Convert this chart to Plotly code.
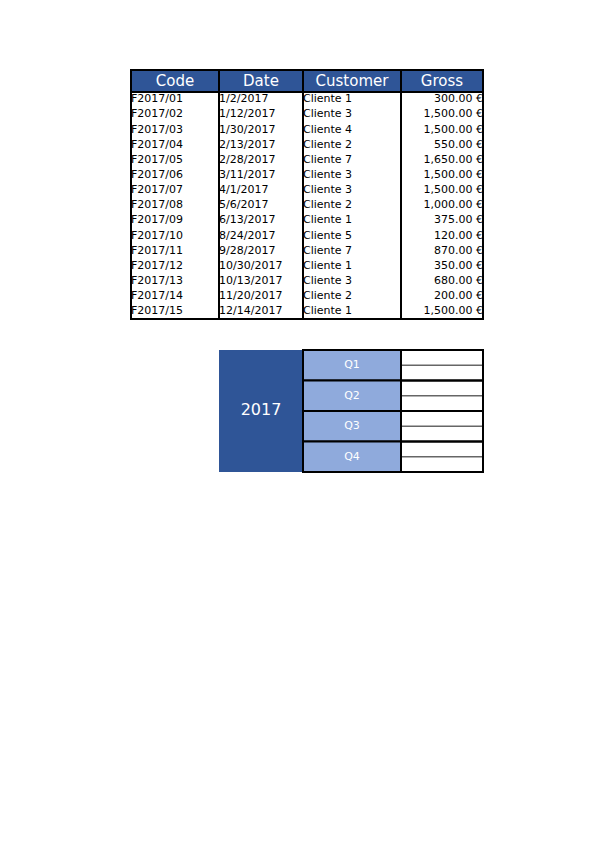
import plotly.graph_objects as go

headers = ['Code', 'Date', 'Customer', 'Gross']
codes = ['F2017/%02d' % i for i in range(1, 16)]
dates = ['1/2/2017', '1/12/2017', '1/30/2017', '2/13/2017', '2/28/2017', '3/11/2017', '4/1/2017',
         '5/6/2017', '6/13/2017', '8/24/2017', '9/28/2017', '10/30/2017', '10/13/2017', '11/20/2017', '12/14/2017']
customers = ['Cliente 1', 'Cliente 3', 'Cliente 4', 'Cliente 2', 'Cliente 7', 'Cliente 3', 'Cliente 3',
             'Cliente 2', 'Cliente 1', 'Cliente 5', 'Cliente 7', 'Cliente 1', 'Cliente 3', 'Cliente 2', 'Cliente 1']
gross = [300, 1500, 1500, 550, 1650, 1500, 1500, 1000, 375, 120, 870, 350, 680, 200, 1500]
year = '2017'
quarters = ['Q1', 'Q2', 'Q3', 'Q4']

dark = '#2f5597'
light = '#8faadc'
cols = [131, 219, 303, 401, 483]
top, head_b = 70, 92
rh = (319 - head_b) / len(codes)

fig = go.Figure()
shapes = []

# header
for i, h in enumerate(headers):
    shapes.append(dict(type='rect', x0=cols[i], x1=cols[i + 1], y0=top, y1=head_b, layer='below',
                       fillcolor=dark, line=dict(color='black', width=2)))
fig.add_trace(go.Scatter(x=[(cols[i] + cols[i + 1]) / 2 for i in range(4)], y=[(top + head_b) / 2 + 1] * 4,
                         mode='text', text=headers, textfont=dict(color='white', size=15, family='DejaVu Sans')))

# body columns
for i in range(4):
    shapes.append(dict(type='rect', x0=cols[i], x1=cols[i + 1], y0=head_b, y1=319, layer='below',
                       line=dict(color='black', width=2)))
ys = [head_b + rh * (k + 0.5) for k in range(len(codes))]
body_font = dict(color='black', size=11, family='DejaVu Sans')
for i, vals in enumerate([codes, dates, customers]):
    fig.add_trace(go.Scatter(x=[cols[i]] * len(vals), y=ys, mode='text', text=vals,
                             textposition='middle right', textfont=body_font))
fig.add_trace(go.Scatter(x=[cols[4]] * len(gross), y=ys, mode='text',
                         text=['{:,.2f} €'.format(g) for g in gross],
                         textposition='middle left', textfont=body_font))

# quarter summary
t2, b2 = 350, 472
qh = (b2 - t2) / len(quarters)
shapes.append(dict(type='rect', x0=219, x1=303, y0=t2, y1=b2, fillcolor=dark, line=dict(width=0), layer='below'))
for k in range(len(quarters)):
    y0 = t2 + qh * k
    shapes.append(dict(type='rect', x0=303, x1=401, y0=y0, y1=y0 + qh, fillcolor=light, layer='below',
                       line=dict(color='black', width=2)))
    shapes.append(dict(type='line', x0=401, x1=483, y0=y0 + qh / 2, y1=y0 + qh / 2, layer='below',
                       line=dict(color='#666666', width=1.5)))
    shapes.append(dict(type='rect', x0=401, x1=483, y0=y0, y1=y0 + qh, layer='below',
                       line=dict(color='black', width=2)))
fig.add_trace(go.Scatter(x=[261], y=[(t2 + b2) / 2], mode='text', text=[year],
                         textfont=dict(color='white', size=16, family='DejaVu Sans')))
fig.add_trace(go.Scatter(x=[352] * 4, y=[t2 + qh * (k + 0.5) for k in range(4)], mode='text', text=quarters,
                         textfont=dict(color='white', size=11, family='DejaVu Sans')))

fig.update_layout(shapes=shapes, width=599, height=848, margin=dict(l=0, r=0, t=0, b=0),
                  showlegend=False, plot_bgcolor='white', paper_bgcolor='white')
# page body has an 8px offset, so shift the axes to land on the reference pixels
fig.update_xaxes(range=[8, 607], visible=False, fixedrange=True)
fig.update_yaxes(range=[856, 8], visible=False, fixedrange=True)
fig.write_html('out.html', config={'displayModeBar': False})
